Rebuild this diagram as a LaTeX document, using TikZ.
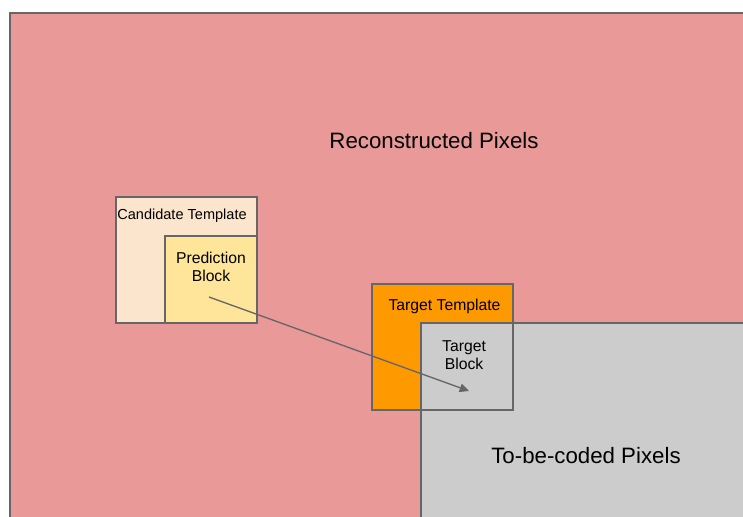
\documentclass[tikz,border=0pt]{standalone}
\usepackage{fontspec}
\setmainfont{Liberation Sans}
\usetikzlibrary{arrows.meta,positioning}
\definecolor{edge}{HTML}{666666}
\definecolor{recon}{HTML}{EA9999}
\definecolor{candfill}{HTML}{FCE5CD}
\definecolor{predfill}{HTML}{FFE599}
\definecolor{tgtfill}{HTML}{FF9900}
\definecolor{codedfill}{HTML}{CCCCCC}

\begin{document}
\begin{tikzpicture}[x=0.75pt, y=-0.75pt,
  blk/.style={draw=edge, line width=1.3pt, anchor=north west, inner sep=0pt},
  lbl/.style={align=center, font=\fontsize{11.8}{13.5}\selectfont},
  big/.style={font=\fontsize{16.7}{20}\selectfont},
  ar/.style={-{Triangle[length=7pt, width=6.5pt]}, edge, line width=1pt}]
  \useasboundingbox (0,0) rectangle (743,517);
  \clip (0,0) rectangle (743,517);

  % regions of the frame
  \node[blk, fill=recon, minimum width=600pt, minimum height=600pt] (recon) at (9,12) {};
  \node[blk, fill=candfill, minimum width=105.75pt, minimum height=94.5pt] (cand) at (115,196) {};
  \node[blk, fill=predfill, minimum width=69pt, minimum height=65.25pt] (pred) at (164,235) {};
  \node[blk, fill=tgtfill, minimum width=105.75pt, minimum height=94.5pt] (tgttmpl) at (371,283) {};
  \node[blk, fill=codedfill, minimum width=300pt, minimum height=300pt] (coded) at (420,322) {};
  \node[blk, minimum width=69pt, minimum height=65.25pt] (tgtblk) at (420,322) {};

  % texts
  \node[big] (recontxt) at (434,141) {Reconstructed Pixels};
  \node[big] (codedtxt) at (586,456) {To-be-coded Pixels};
  \node[lbl, font=\fontsize{10.9}{13}\selectfont] (candtxt) at (182,216) {Candidate Template};
  \node[lbl] (predtxt) at (211,267) {Prediction\\Block};
  \node[lbl] (tgttmpltxt) at (444.5,306) {Target Template};
  \node[lbl] (tgtblktxt) at (464,355) {Target\\Block};

  % motion from prediction to target
  \coordinate (src) at (209,297);
  \coordinate (dst) at (469,391);
  \draw[ar] (src) -- (dst);
\end{tikzpicture}
\end{document}
